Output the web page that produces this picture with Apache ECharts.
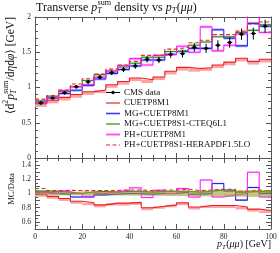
<!DOCTYPE html>
<html><head><meta charset="utf-8">
<script src="https://cdn.jsdelivr.net/npm/echarts@6/dist/echarts.min.js"></script>
<style>html,body{margin:0;padding:0;background:#fff}#c{width:280px;height:253px}</style>
</head><body><div id="c"></div>
<script>
// ---- data ----
const edges = [0,5,10,15,20,25,30,35,40,45,50,55,60,65,70,75,80,85,90,95,100];
const cmsData = [0.78,0.85,0.925,1.01,1.08,1.146,1.21,1.255,1.306,1.40,1.39,1.47,1.48,1.57,1.555,1.60,1.64,1.755,1.765,1.87];
const cmsErr  = [0.02,0.02,0.025,0.025,0.03,0.03,0.035,0.035,0.04,0.045,0.045,0.05,0.055,0.06,0.065,0.07,0.075,0.08,0.085,0.09];
const cuetp8m1   = [0.77,0.82,0.86,0.90,0.94,0.965,1.04,1.085,1.135,1.11,1.15,1.23,1.285,1.27,1.28,1.32,1.36,1.415,1.37,1.40];
const mgCuetp8m1 = [0.795,0.85,0.915,0.96,1.03,1.12,1.20,1.255,1.306,1.39,1.39,1.47,1.51,1.555,1.555,1.82,1.70,1.59,1.91,1.87];
const mgCteq     = [0.81,0.875,0.945,1.01,1.10,1.18,1.235,1.29,1.345,1.43,1.43,1.51,1.525,1.60,1.645,1.72,1.72,1.78,1.81,1.89];
const phCuetp8m1 = [0.79,0.85,0.955,1.01,1.04,1.145,1.235,1.31,1.41,1.32,1.455,1.47,1.585,1.50,1.86,1.52,1.60,1.76,2.29,1.78];
const phHera     = [0.835,0.885,0.965,1.05,1.125,1.19,1.26,1.32,1.37,1.455,1.46,1.545,1.57,1.635,1.67,1.75,1.75,1.80,1.90,1.93];
// ratios MC/Data
const rCuetp8m1   = [0.99,0.96,0.93,0.89,0.87,0.84,0.865,0.865,0.875,0.80,0.82,0.84,0.87,0.81,0.83,0.83,0.83,0.81,0.78,0.76];
const rMgCuetp8m1 = [1.02,1.0,0.99,0.95,0.95,0.98,0.99,1.0,1.0,0.99,1.0,1.0,1.02,0.99,1.0,1.14,1.035,0.906,1.084,1.0];
const rMgCteq     = [1.035,1.03,1.02,1.0,1.02,1.03,1.02,1.03,1.03,1.02,1.03,1.03,1.03,1.02,1.03,1.05,1.05,1.02,1.03,1.02];
const rPhCuetp8m1 = [1.01,1.0,1.035,1.0,0.96,1.0,1.02,1.046,1.08,0.944,1.046,1.0,1.07,0.95,1.19,0.95,0.975,1.0,1.30,0.95];
const rPhHera     = [1.07,1.04,1.045,1.04,1.04,1.04,1.04,1.05,1.05,1.04,1.05,1.05,1.06,1.04,1.05,1.06,1.06,1.03,1.05,1.03];
const ratioBand   = [0.025,0.025,0.025,0.025,0.025,0.025,0.028,0.028,0.03,0.032,0.032,0.034,0.036,0.038,0.04,0.042,0.044,0.045,0.047,0.048];
const topTicks = [0,0.5,1,1.5,2];
const xTicks = [0,20,40,60,80,100];
const legendNames = ['CMS data','CUETP8M1','MG+CUETP8M1','MG+CUETP8S1-CTEQ6L1','PH+CUETP8M1','PH+CUETP8S1-HERAPDF1.5LO'];

// ---- helpers ----
const FF = '"Liberation Serif", "DejaVu Serif", serif';
const C = {red:'#ee1c1c', pink:'#f8a4a4', blue:'#2424ee', lblue:'#a0a0ff', green:'#2a8f2a', lgreen:'#a6d8a6', mag:'#ff22ff', lmag:'#ffaaff', dash:'#ee2222', olive:'#9c9c22'};

function stepData(vals){ return edges.map((e,i)=>[e, vals[Math.min(i, vals.length-1)]]); }
function stepSeries(vals, color, xi, yi, dashed, z){
  return {type:'line', xAxisIndex:xi, yAxisIndex:yi, step:'end', data:stepData(vals), showSymbol:false, symbol:'none',
    lineStyle:{color:color, width:1.1, type: dashed ? [4,2.5] : 'solid'}, z:z||3, silent:true, clip:true};
}
function bandSeries(vals, lo, hi, color, xi, yi, opacity, z){
  return {type:'custom', xAxisIndex:xi, yAxisIndex:yi, clip:true, silent:true, z:z||2,
    data: vals.map((v,i)=>[edges[i], edges[i+1], v-lo, v+hi]),
    renderItem:(params, api)=>{
      const p0 = api.coord([api.value(0), api.value(3)]);
      const p1 = api.coord([api.value(1), api.value(2)]);
      return {type:'rect', shape:{x:p0[0], y:p0[1], width:p1[0]-p0[0], height:p1[1]-p0[1]}, style:{fill:color, opacity:opacity}};
    }};
}
const dataSeries = {type:'custom', xAxisIndex:0, yAxisIndex:0, clip:true, silent:true, z:10,
  data: cmsData.map((v,i)=>[(edges[i]+edges[i+1])/2, v, cmsErr[i]]),
  renderItem:(params, api)=>{
    const xc=api.value(0), v=api.value(1), e=api.value(2);
    const c=api.coord([xc,v]), t=api.coord([xc,v+e]), b=api.coord([xc,v-e]);
    return {type:'group', children:[
      {type:'line', shape:{x1:c[0], y1:t[1], x2:c[0], y2:b[1]}, style:{stroke:'#000', lineWidth:1}},
      {type:'line', shape:{x1:c[0]-2.6, y1:c[1], x2:c[0]+2.6, y2:c[1]}, style:{stroke:'#000', lineWidth:1}},
      {type:'circle', shape:{cx:c[0], cy:c[1], r:1.7}, style:{fill:'#000'}}]};
  }};

const axisCol = '#555';
function xAx(grid, pos, labels){
  return {type:'value', gridIndex:grid, position:pos, min:0, max:100, interval:20,
    axisLine:{show:true, onZero:false, lineStyle:{color: axisCol, width:1}},
    axisTick:{show:true, inside:true, length:5, lineStyle:{color:axisCol}},
    minorTick:{show:true, splitNumber:4, length:3, lineStyle:{color:axisCol}},
    splitLine:{show:false},
    axisLabel:{show:labels, fontFamily:FF, fontSize:7.5, color:'#222', margin:4}};
}
function yAx(grid, pos, min, max, interval, minorN, labels, fmt){
  return {type:'value', gridIndex:grid, position:pos, min:min, max:max, interval:interval,
    axisLine:{show:true, onZero:false, lineStyle:{color:axisCol, width:1}},
    axisTick:{show:true, inside:true, length:5, lineStyle:{color:axisCol}},
    minorTick:{show:true, splitNumber:minorN, length:3, lineStyle:{color:axisCol}},
    splitLine:{show:false},
    axisLabel:{show:labels, fontFamily:FF, fontSize:7.5, color:'#222', margin:4, formatter:fmt, showMinLabel:true, showMaxLabel:true}};
}

// text measuring for composed labels
const cctx = document.createElement('canvas').getContext('2d');
function tw(t, size, italic){ cctx.font=(italic?'italic ':'')+size+'px '+FF; return cctx.measureText(t).width; }
function composeText(parts, size){
  const els=[]; let x=0;
  for(const p of parts){
    if(p.stack){
      const bw = tw(p.base, size, true);
      els.push({type:'text', style:{x:x, y:0, text:p.base, fontSize:size, fontStyle:'italic', fontFamily:FF, fill:'#111', verticalAlign:'middle'}});
      x += bw;
      const ss = size*0.68;
      let w=0;
      if(p.sup){ els.push({type:'text', style:{x:x+0.3, y:-size*0.42, text:p.sup, fontSize:ss, fontFamily:FF, fill:'#111', verticalAlign:'middle'}}); w=Math.max(w, tw(p.sup, ss, false)); }
      if(p.sub){ els.push({type:'text', style:{x:x, y:size*0.32, text:p.sub, fontSize:ss, fontStyle:'italic', fontFamily:FF, fill:'#111', verticalAlign:'middle'}}); w=Math.max(w, tw(p.sub, ss, true)); }
      x += w + 0.5;
    } else if(p.sup){
      const ss=size*0.68;
      els.push({type:'text', style:{x:x, y:-size*0.42, text:p.sup, fontSize:ss, fontFamily:FF, fill:'#111', verticalAlign:'middle'}});
      x += tw(p.sup, ss, false);
    } else {
      els.push({type:'text', style:{x:x, y:0, text:p.t, fontSize:size, fontStyle:p.i?'italic':'normal', fontFamily:FF, fill:'#111', verticalAlign:'middle'}});
      x += tw(p.t, size, !!p.i);
    }
  }
  return {els, width:x};
}

const titleT = composeText([{t:'Transverse '},{stack:true, base:'p', sup:'sum', sub:'T'},{t:' density vs '},{stack:true, base:'p', sub:'T'},{t:'('},{t:'μμ', i:true},{t:')'}], 12);
const yTitle = composeText([{t:'⟨d'},{sup:'2'},{stack:true, base:'p', sup:'sum', sub:'T'},{t:'/d'},{t:'η', i:true},{t:'d'},{t:'φ', i:true},{t:'⟩ [GeV]'}], 11.5);
const rTitle = composeText([{t:'MC/Data'}], 8.5);
const xTitle = composeText([{stack:true, base:'p', sub:'T'},{t:'('},{t:'μμ', i:true},{t:') [GeV]'}], 10);

const legendStyles = [
  {stroke:'#000', w:1, dot:true},
  {stroke:'#f47c7c', w:2},
  {stroke:'#3a3aee', w:1.6},
  {stroke:'#2a9a2a', w:1.3},
  {stroke:'#ff55ff', w:2},
  {stroke:'#ee2222', w:1.1, dash:[4,2.5]}
];
const legendEls = [];
legendNames.forEach((n,i)=>{
  const y = 92.5 + i*10.5;
  const s = legendStyles[i];
  legendEls.push({type:'line', shape:{x1:106, y1:y, x2:120, y2:y}, style:{stroke:s.stroke, lineWidth:s.w, lineDash:s.dash||null}});
  if(s.dot) legendEls.push({type:'circle', shape:{cx:113, cy:y, r:1.7}, style:{fill:'#000'}});
  legendEls.push({type:'text', style:{x:124, y:y, text:n, fontSize:9, fontFamily:FF, fill:'#111', verticalAlign:'middle'}});
});

const chart = echarts.init(document.getElementById('c'), null, {renderer:'canvas'});
chart.setOption({
  animation:false,
  grid:[{left:35, right:9, top:17, height:141},{left:35, right:9, top:158, height:71}],
  xAxis:[xAx(0,'bottom',false), xAx(0,'top',false), xAx(1,'bottom',true), xAx(1,'top',false)],
  yAxis:[yAx(0,'left',0,2,0.5,5,true,v=>String(Math.round(v*10)/10)), yAx(0,'right',0,2,0.5,5,false),
         yAx(1,'left',0.5,1.5,0.1,2,true,v=>{const r=Math.round(v*10); return r%2===0 ? String(r/10) : '';}), yAx(1,'right',0.5,1.5,0.1,2,false)],
  series:[
    bandSeries(cuetp8m1, 0.045, 0, C.pink, 0, 0, 1, 1),
    bandSeries(mgCuetp8m1, 0.02, 0.02, C.lblue, 0, 0, 0.8, 1),
    bandSeries(mgCteq, 0.015, 0.015, C.lgreen, 0, 0, 0.8, 1),
    bandSeries(phCuetp8m1, 0.02, 0.02, C.lmag, 0, 0, 0.8, 1),
    stepSeries(cuetp8m1, C.red, 0, 0),
    stepSeries(mgCuetp8m1, C.blue, 0, 0),
    stepSeries(mgCteq, C.green, 0, 0),
    stepSeries(phCuetp8m1, C.mag, 0, 0),
    stepSeries(phHera, C.dash, 0, 0, true),
    dataSeries,
    bandSeries(rCuetp8m1, 0.035, 0, C.pink, 2, 2, 1, 1),
    bandSeries(rMgCuetp8m1, 0.012, 0.012, C.lblue, 2, 2, 0.8, 1),
    bandSeries(rMgCteq, 0.01, 0.01, C.lgreen, 2, 2, 0.8, 1),
    bandSeries(rPhCuetp8m1, 0.012, 0.012, C.lmag, 2, 2, 0.8, 1),
    stepSeries(rCuetp8m1, C.red, 2, 2),
    stepSeries(rMgCuetp8m1, C.blue, 2, 2),
    stepSeries(rMgCteq, C.green, 2, 2),
    stepSeries(rPhCuetp8m1, C.mag, 2, 2),
    stepSeries(rPhHera, C.dash, 2, 2, true),
    {type:'custom', xAxisIndex:2, yAxisIndex:2, clip:true, silent:true, z:6,
      data: ratioBand.map((h,i)=>[edges[i], edges[i+1], h]),
      renderItem:(params, api)=>{
        const h=api.value(2);
        const p0=api.coord([api.value(0), 1+h]), p1=api.coord([api.value(1), 1-h]);
        return {type:'rect', shape:{x:p0[0], y:p0[1], width:p1[0]-p0[0], height:p1[1]-p0[1]}, style:{fill:C.olive, opacity:0.6}};
      }}
  ],
  graphic:[
    {type:'group', x:36, y:7.5, children:titleT.els},
    {type:'group', x:10.5, y:17+yTitle.width, rotation:Math.PI/2, children:yTitle.els},
    {type:'group', x:12, y:189+rTitle.width/2, rotation:Math.PI/2, children:rTitle.els},
    {type:'group', x:271-xTitle.width, y:244.5, children:xTitle.els},
    {type:'group', children:legendEls}
  ]
});
</script></body></html>
